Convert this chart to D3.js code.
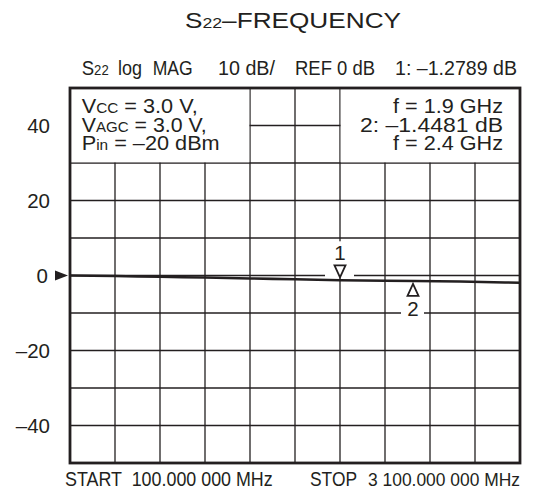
<!DOCTYPE html>
<html><head><meta charset="utf-8">
<script src="https://cdn.jsdelivr.net/npm/d3@7"></script>
<style>
html,body{margin:0;padding:0;background:#fff;}
svg{display:block;font-family:"Liberation Sans",Arial,Helvetica,sans-serif;}
</style></head>
<body><svg id="c" width="533" height="492"></svg>
<script>
// ---- data ----
const freqMHz = [100, 250, 400, 550, 700, 850, 1000, 1150, 1300, 1450, 1600, 1750, 1900, 2050, 2200, 2400, 2550, 2700, 2850, 3000, 3100];
const s22dB   = [0, -0.05, -0.15, -0.25, -0.35, -0.45, -0.55, -0.65, -0.78, -0.9, -1.02, -1.15, -1.28, -1.35, -1.40, -1.45, -1.52, -1.62, -1.75, -1.85, -1.92];
const markerLabels = ["1", "2"];
const markerFreq = [1900, 2400];
const markerDB = [-1.2789, -1.4481];
const yTickValues = [40, 20, 0, -20, -40];
const xGridValues = [100, 400, 700, 1000, 1300, 1600, 1900, 2200, 2500, 2800, 3100];
const yGridValues = [-50, -40, -30, -20, -10, 0, 10, 20, 30, 40, 50];
const leftNotes = [["V", "CC", " = 3.0 V,"], ["V", "AGC", " = 3.0 V,"], ["P", "in", " = \u201320 dBm"]];
const rightNotes = ["f = 1.9 GHz", "2: \u20131.4481 dB", "f = 2.4 GHz"];

const ink = "#231f20";
const svg = d3.select("#c");
const L = 70, R = 520, T = 88, B = 463;
const x = d3.scaleLinear().domain([100, 3100]).range([L, R]);
const y = d3.scaleLinear().domain([-50, 50]).range([B, T]);
const FS = 20.5, SUB = 14.5;

// text helper: parts = [[string, isSmall], ...]
function txt(px, py, parts, width, anchor, fs) {
  const t = svg.append("text").attr("x", px).attr("y", py).attr("font-size", fs || FS)
    .attr("fill", ink).attr("text-anchor", anchor || "start").style("white-space", "pre");
  parts.forEach(p => {
    const s = t.append("tspan").text(p[0]);
    if (p[1]) s.attr("font-size", SUB);
  });
  if (width) t.attr("textLength", width).attr("lengthAdjust", "spacingAndGlyphs");
  return t;
}

// title
txt(185, 28, [["S"], ["22", 1], ["\u2013FREQUENCY"]], 216, "start", 21.5);

// header line
const hy = 75;
txt(81.7, hy, [["S"], ["22", 1]], 27);
txt(118, hy, [["log"]], 24);
txt(152.7, hy, [["MAG"]], 40);
txt(218, hy, [["10 dB/"]], 57);
txt(295, hy, [["REF 0 dB"]], 80);
txt(395, hy, [["1: \u2013" + Math.abs(markerDB[0]).toFixed(4) + " dB"]], 122);

// grid
const g = svg.append("g");
g.selectAll(".vx").data(xGridValues).join("line")
  .attr("x1", d => x(d)).attr("x2", d => x(d)).attr("y1", T).attr("y2", B)
  .attr("stroke", ink).attr("stroke-width", 1.3);
g.selectAll(".hy").data(yGridValues).join("line")
  .attr("x1", L).attr("x2", R).attr("y1", d => y(d)).attr("y2", d => y(d))
  .attr("stroke", ink).attr("stroke-width", 1.3);

// annotation boxes (hide grid)
svg.append("rect").attr("x", x(100) + 1).attr("y", y(50) + 1).attr("width", x(1300) - x(100) - 1.7).attr("height", y(30) - y(50) - 1.7).attr("fill", "#fff");
svg.append("rect").attr("x", x(1900) + 0.7).attr("y", y(50) + 1).attr("width", x(3100) - x(1900) - 1.7).attr("height", y(30) - y(50) - 1.7).attr("fill", "#fff");

// marker white backgrounds
svg.append("rect").attr("x", x(markerFreq[0]) - 15).attr("y", y(markerDB[0]) - 39).attr("width", 29).attr("height", 36).attr("fill", "#fff");
svg.append("rect").attr("x", x(markerFreq[1]) - 14).attr("y", y(markerDB[1]) + 3).attr("width", 23).attr("height", 36).attr("fill", "#fff");

// frame
svg.append("rect").attr("x", L).attr("y", T).attr("width", R - L).attr("height", B - T)
  .attr("fill", "none").attr("stroke", ink).attr("stroke-width", 2.8);

// notes
const noteY = [113.3, 131.7, 150];
const leftW = [116, 125, 138];
leftNotes.forEach((n, i) => txt(81.7, noteY[i], [[n[0]], [n[1], 1], [n[2]]], leftW[i]));
const rightW = [110, 143, 110];
rightNotes.forEach((n, i) => txt(503, noteY[i], [[n]], rightW[i], "end"));

// y labels
yTickValues.forEach(d => {
  const s = d < 0 ? "\u2013" + Math.abs(d) : String(d);
  txt(d === 0 ? 48 : 50, y(d) + 7.5, [[s]], null, "end");
});
// reference arrow
svg.append("path").attr("d", `M55,${y(0) - 5}L68,${y(0)}L55,${y(0) + 5}Z`).attr("fill", ink);

// trace
const line = d3.line().x((d, i) => x(freqMHz[i])).y(d => y(d));
svg.append("path").datum(s22dB).attr("d", line).attr("fill", "none")
  .attr("stroke", ink).attr("stroke-width", 2.6);

// markers
{
  const mx = x(markerFreq[0]), my = y(markerDB[0]);
  svg.append("path").attr("d", `M${mx - 5.5},${my - 15}L${mx + 5.5},${my - 15}L${mx},${my - 3}Z`)
    .attr("fill", "#fff").attr("stroke", ink).attr("stroke-width", 1.8);
  txt(mx, my - 20, [[markerLabels[0]]], null, "middle");
}
{
  const mx = x(markerFreq[1]) - 2, my = y(markerDB[1]);
  svg.append("path").attr("d", `M${mx - 5.5},${my + 15}L${mx + 5.5},${my + 15}L${mx},${my + 3}Z`)
    .attr("fill", "#fff").attr("stroke", ink).attr("stroke-width", 1.8);
  txt(mx, my + 35, [[markerLabels[1]]], null, "middle");
}

// bottom labels
const by = 486;
txt(65, by, [["START"]], 57, "start", 19.5);
txt(131.7, by, [["100.000 000 MHz"]], 141, "start", 19.5);
txt(310, by, [["STOP"]], 47, "start", 19.5);
txt(368, by, [["3 100.000 000 MHz"]], 152, "start", 19);
</script></body></html>
